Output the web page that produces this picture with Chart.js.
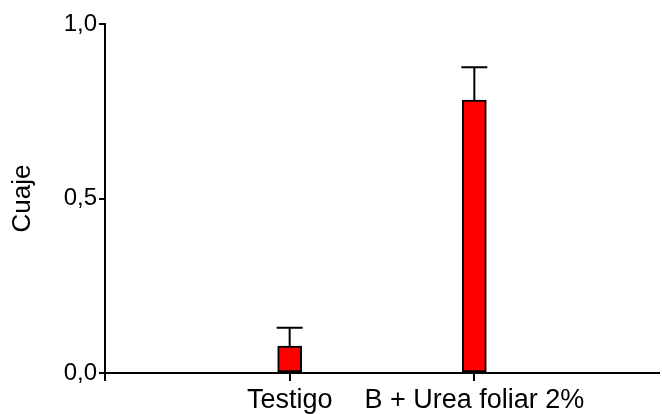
<!DOCTYPE html>
<html>
<head>
<meta charset="utf-8">
<script src="https://cdn.jsdelivr.net/npm/chart.js@4.4.1/dist/chart.umd.min.js"></script>
<style>
  html, body { margin: 0; padding: 0; background: #ffffff; }
  #wrap { width: 662px; height: 414px; position: relative; }
</style>
</head>
<body>
<div id="wrap"><canvas id="c" width="662" height="414"></canvas></div>
<script>
// Data
const categories = ['Testigo', 'B + Urea foliar 2%'];
const cuaje = [0.077, 0.782];
const cuajeErr = [0.053, 0.094];
const yTicks = [0, 0.5, 1.0];
const yTitle = 'Cuaje';

// Category axis padded with one empty slot on each side
const labels = [''].concat(categories, ['']);
const values = [null].concat(cuaje, [null]);
const errors = [null].concat(cuajeErr, [null]);

const errorBarPlugin = {
  id: 'errorBars',
  afterDatasetsDraw(chart) {
    const ctx = chart.ctx;
    const meta = chart.getDatasetMeta(0);
    const yScale = chart.scales.y;
    ctx.save();
    ctx.strokeStyle = '#000';
    ctx.lineWidth = 2;
    meta.data.forEach((bar, i) => {
      const v = values[i], e = errors[i];
      if (v == null || e == null) return;
      const yTop = yScale.getPixelForValue(v + e);
      const yBar = yScale.getPixelForValue(v);
      const half = 13;
      ctx.beginPath();
      ctx.moveTo(bar.x, yBar);
      ctx.lineTo(bar.x, yTop);
      ctx.moveTo(bar.x - half, yTop);
      ctx.lineTo(bar.x + half, yTop);
      ctx.stroke();
    });
    ctx.restore();
  }
};

new Chart(document.getElementById('c'), {
  type: 'bar',
  data: {
    labels: labels,
    datasets: [{
      data: values,
      backgroundColor: '#ff0000',
      borderColor: '#000000',
      borderWidth: 2,
      barThickness: 24,
      borderSkipped: false
    }]
  },
  options: {
    responsive: false,
    animation: false,
    devicePixelRatio: 1,
    layout: { padding: { top: 24, right: 0, left: 0, bottom: 0 } },
    plugins: { legend: { display: false }, tooltip: { enabled: false } },
    scales: {
      x: {
        offset: false,
        grid: {
          offset: false, drawOnChartArea: false, tickLength: 8, color: '#000', lineWidth: 2,
          tickColor: ctx => (ctx.index === labels.length - 1 ? 'rgba(0,0,0,0)' : '#000')
        },
        border: { color: '#000', width: 2 },
        ticks: {
          autoSkip: false, maxRotation: 0, padding: 3,
          color: '#000',
          font: { family: 'Liberation Sans, Arial, sans-serif', size: 27 }
        },
        afterFit(scale) { scale.height = 41; }
      },
      y: {
        min: 0, max: 1,
        afterBuildTicks(scale) { scale.ticks = yTicks.map(v => ({ value: v })); },
        grid: { drawOnChartArea: false, tickLength: 6, color: '#000', lineWidth: 2 },
        border: { color: '#000', width: 2 },
        ticks: {
          padding: 2,
          color: '#000',
          font: { family: 'Liberation Sans, Arial, sans-serif', size: 24 },
          callback: v => Number(v).toFixed(1).replace('.', ',')
        },
        title: {
          display: true, text: yTitle, color: '#000',
          font: { family: 'Liberation Sans, Arial, sans-serif', size: 26 },
          padding: { top: 7, bottom: 0 }
        },
        afterFit(scale) { scale.width = 105; }
      }
    }
  },
  plugins: [errorBarPlugin]
});
</script>
</body>
</html>
